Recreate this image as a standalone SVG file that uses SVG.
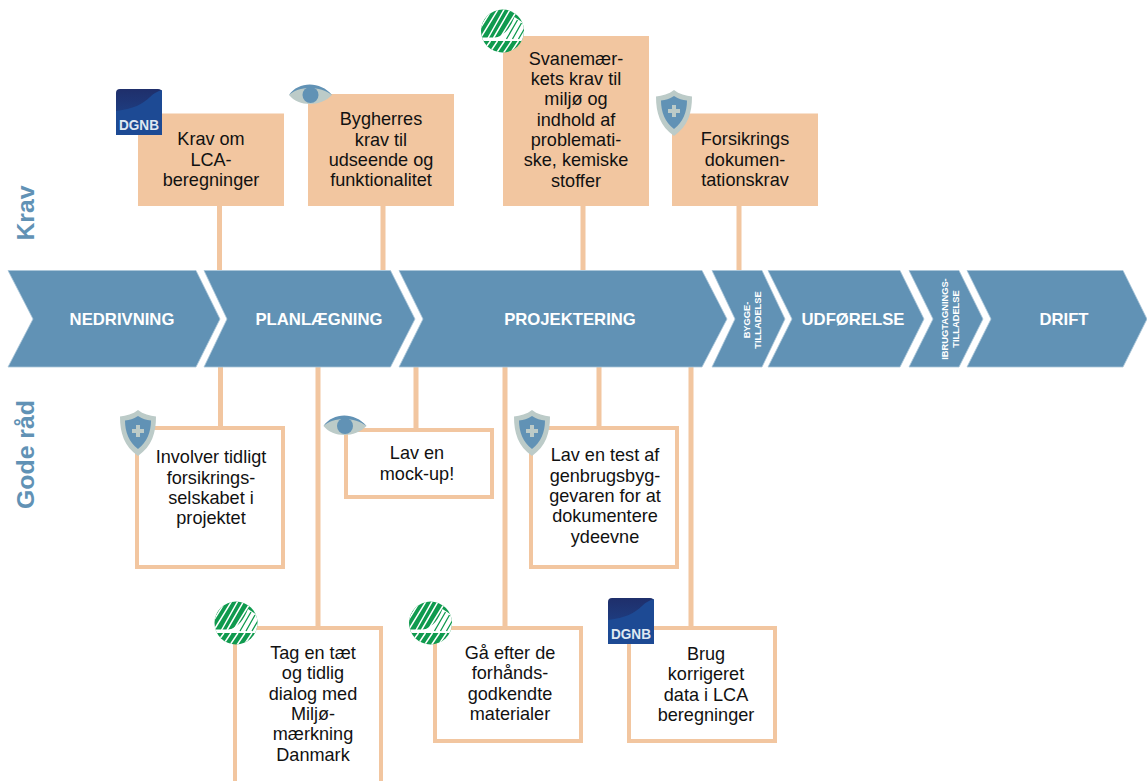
<svg xmlns="http://www.w3.org/2000/svg" width="1147" height="781" viewBox="0 0 1147 781">
<style>
text{font-family:"Liberation Sans",Arial,sans-serif}
.chev{fill:#6192b5;stroke:#a9c5d8;stroke-width:.8}
.ct{fill:#fff;font-weight:bold;font-size:16.7px;text-anchor:middle}
.cs{fill:#fff;font-weight:bold;font-size:9.3px;text-anchor:middle}
.req{fill:#f2c6a0}
.adv{fill:#fff;stroke:#f2c6a0;stroke-width:4}
.t{fill:#111;font-size:18.1px;text-anchor:middle}
.side{fill:#6192b5;font-weight:bold;font-size:24.8px;text-anchor:middle}
.conn{stroke:#f2c6a0;stroke-width:5;fill:none}
</style>
<defs>
<clipPath id="swanclip"><circle r="21.5"/></clipPath>
<g id="swan">
<circle r="21.5" fill="#0f9a4e"/>
<g clip-path="url(#swanclip)">
<path d="M-8 7C3 4 8-4 12-14L24-6V7Z" fill="#fff"/>
<rect x="-22" y="6.500" width="44" height="3.500" fill="#fff"/>
<g stroke="#fff" stroke-width="1.500">
<path d="M-24 0L-9-24M-22 7L-3-24M-15 8L3-24M-9 7L9-24M-3 8L13-18M-20 21L-12 10M-13 22L-5 10M-6 22L2 10M1 22L9 10M8 22L16 10"/>
</g>
<g stroke="#0f9a4e" stroke-width="1.300">
<path d="M4 8L15-11M10 8L19-8M16 8L23-4"/>
</g>
</g>
</g>
<g id="eye">
<path d="M-21.500 0C-12-12 10-12 21.500 0C10 12-12 12-21.500 0Z" fill="#bccbc8"/>
<path d="M-21.500 0C-12-14 10-14 21.500 0C10-9.500-12-9.500-21.500 0Z" fill="#6192b5"/>
<circle r="8" fill="#6192b5"/>
</g>
<g id="shield">
<path d="M0-23C5-19 12-17 18-16.500C18 0 14 13 0 23C-14 13-18 0-18-16.500C-12-17-5-19 0-23Z" fill="#bccbc8"/>
<path d="M0-17C5-14 8-13 13-12.500C13-1 9 9 0 16C-9 9-13-1-13-12.500C-8-13-5-14 0-17Z" fill="#6192b5"/>
<path d="M-2-8H2V-4H6V0H2V4H-2V0H-6V-4H-2Z" fill="#bccbc8"/>
</g>
<linearGradient id="dg" x1="0" y1="0" x2="0" y2="1"><stop offset="0" stop-color="#1f2f6b"/><stop offset="1" stop-color="#1d4a94"/></linearGradient>
<g id="dgnb">
<rect x="-23" y="-23" width="46" height="46" rx="4" fill="url(#dg)"/>
<path d="M-23-1C-6-3 4-8 11-15C15-19 19-21 23-22V23H-23Z" fill="#1d4a94"/>
<text x="0" y="18" fill="#dfe8f2" font-size="14.500" font-weight="bold" text-anchor="middle" textLength="40" lengthAdjust="spacingAndGlyphs">DGNB</text>
</g>
</defs>
<rect width="1147" height="781" fill="#fff"/>
<g id="connectors" class="conn">
<path d="M219.500 206V270M383 206V270M583 206V270M739 206V270"/>
<path d="M220.500 367V427M318 367V627M416 367V429M599 367V427M505 367V627M691 367V627"/>
</g>
<g id="labels">
<text class="side" transform="translate(34,213) rotate(-90)">Krav</text>
<text class="side" transform="translate(34,454.500) rotate(-90)">Gode råd</text>
</g>
<g id="process">
<g id="nedrivning"><path class="chev" d="M8 270.500H196L220 319L196 367H8L33 319Z"/><text class="ct" x="122" y="324.500">NEDRIVNING</text></g>
<g id="planlaegning"><path class="chev" d="M204 270.500H390.500L415 319L390.500 367H204L227 319Z"/><text class="ct" x="319" y="324.500">PLANLÆGNING</text></g>
<g id="projektering"><path class="chev" d="M399 270.500H702L727 319L702 367H399L423 319Z"/><text class="ct" x="570" y="324.500">PROJEKTERING</text></g>
<g id="bygge"><path class="chev" d="M712 270.500H762L785 319L762 367H712L735 319Z"/><text class="cs" transform="translate(752,320) rotate(-90)"><tspan x="0" y="-2">BYGGE-</tspan><tspan x="0" y="9">TILLADELSE</tspan></text></g>
<g id="udforelse"><path class="chev" d="M768 270.500H900L924 319L900 367H768L792 319Z"/><text class="ct" x="853" y="324.500">UDFØRELSE</text></g>
<g id="ibrug"><path class="chev" d="M909 270.500H959L983 319L959 367H909L933 319Z"/><text class="cs" transform="translate(950,319) rotate(-90)"><tspan x="0" y="-2">IBRUGTAGNINGS-</tspan><tspan x="0" y="9">TILLADELSE</tspan></text></g>
<g id="drift"><path class="chev" d="M967 270.500H1123L1147 319L1123 367H967L991 319Z"/><text class="ct" x="1064" y="324.500">DRIFT</text></g>
</g>
<g id="req-lca"><rect class="req" x="138" y="113.500" width="146" height="92.500"/><use href="#dgnb" x="139" y="112"/>
<text class="t"><tspan x="211" y="145">Krav om</tspan><tspan x="211" y="165.500">LCA-</tspan><tspan x="211" y="186">beregninger</tspan></text></g>
<g id="req-bygherre"><rect class="req" x="308" y="94" width="146" height="112"/><use href="#eye" x="310.500" y="95"/>
<text class="t"><tspan x="381" y="125">Bygherres</tspan><tspan x="381" y="145.500">krav til</tspan><tspan x="381" y="166">udseende og</tspan><tspan x="381" y="186">funktionalitet</tspan></text></g>
<g id="req-svane"><rect class="req" x="503" y="36" width="146" height="170"/><use href="#swan" x="502.500" y="31"/>
<text class="t"><tspan x="576" y="64.500">Svanemær-</tspan><tspan x="576" y="84.500">kets krav til</tspan><tspan x="576" y="105">miljø og</tspan><tspan x="576" y="125.500">indhold af</tspan><tspan x="576" y="145.500">problemati-</tspan><tspan x="576" y="166">ske, kemiske</tspan><tspan x="576" y="186.500">stoffer</tspan></text></g>
<g id="req-forsikring"><rect class="req" x="672" y="113.500" width="146" height="92.500"/><use href="#shield" x="674" y="113"/>
<text class="t"><tspan x="745" y="145">Forsikrings</tspan><tspan x="745" y="165.500">dokumen-</tspan><tspan x="745" y="186">tationskrav</tspan></text></g>
<g id="adv-forsikring"><rect class="adv" x="137" y="428" width="146" height="139"/><use href="#shield" x="138" y="433"/>
<text class="t"><tspan x="211" y="463">Involver tidligt</tspan><tspan x="211" y="483.500">forsikrings-</tspan><tspan x="211" y="503.500">selskabet i</tspan><tspan x="211" y="524">projektet</tspan></text></g>
<g id="adv-mockup"><rect class="adv" x="346" y="430" width="146" height="67"/><use href="#eye" x="345" y="426"/>
<text class="t"><tspan x="417" y="459">Lav en</tspan><tspan x="417" y="480">mock-up!</tspan></text></g>
<g id="adv-test"><rect class="adv" x="531" y="428" width="146" height="139"/><use href="#shield" x="532" y="433"/>
<text class="t"><tspan x="605" y="461">Lav en test af</tspan><tspan x="605" y="481.500">genbrugsbyg-</tspan><tspan x="605" y="502">gevaren for at</tspan><tspan x="605" y="522">dokumentere</tspan><tspan x="605" y="542.500">ydeevne</tspan></text></g>
<g id="adv-dialog"><rect class="adv" x="235" y="628" width="146" height="160"/><use href="#swan" x="236" y="623"/>
<text class="t"><tspan x="313" y="658.500">Tag en tæt</tspan><tspan x="313" y="679">og tidlig</tspan><tspan x="313" y="699.500">dialog med</tspan><tspan x="313" y="719.500">Miljø-</tspan><tspan x="313" y="740">mærkning</tspan><tspan x="313" y="760.500">Danmark</tspan></text></g>
<g id="adv-godkendte"><rect class="adv" x="435" y="628" width="146" height="113"/><use href="#swan" x="430.500" y="623"/>
<text class="t"><tspan x="510" y="658.500">Gå efter de</tspan><tspan x="510" y="679">forhånds-</tspan><tspan x="510" y="699.500">godkendte</tspan><tspan x="510" y="719.500">materialer</tspan></text></g>
<g id="adv-data"><rect class="adv" x="629" y="628" width="146" height="113"/><use href="#dgnb" x="631" y="621"/>
<text class="t"><tspan x="706" y="660">Brug</tspan><tspan x="706" y="680">korrigeret</tspan><tspan x="706" y="700.500">data i LCA</tspan><tspan x="706" y="720.500">beregninger</tspan></text></g>
</svg>
